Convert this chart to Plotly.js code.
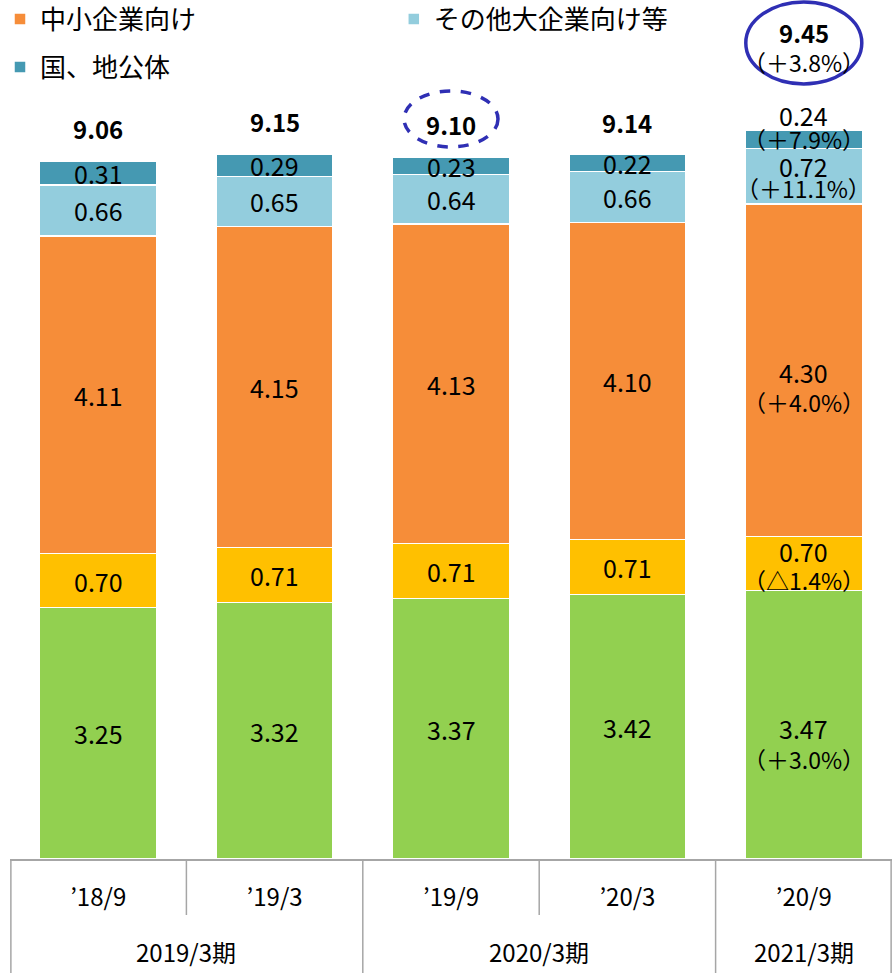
<!DOCTYPE html>
<html>
<head>
<meta charset="utf-8">
<script src="https://cdn.plot.ly/plotly-3.0.1.min.js"></script>
<style>html,body{margin:0;padding:0;background:#fff;}#chart{width:895px;height:973px;}</style>
</head>
<body>
<div id="chart"></div>
<script>
// ---- data ----
const fiscalYears = ['2019/3期', '2019/3期', '2020/3期', '2020/3期', '2021/3期'];
const periods = ['’18/9', '’19/3', '’19/9', '’20/3', '’20/9'];
const seriesNames = ['個人向け', '大企業向け', '中小企業向け', 'その他大企業向け等', '国、地公体'];
const greenVals = [3.25, 3.32, 3.37, 3.42, 3.47];
const yellowVals = [0.70, 0.71, 0.71, 0.71, 0.70];
const orangeVals = [4.11, 4.15, 4.13, 4.10, 4.30];
const lightBlueVals = [0.66, 0.65, 0.64, 0.66, 0.72];
const tealVals = [0.31, 0.29, 0.23, 0.22, 0.24];
const totalLabels = ['9.06', '9.15', '9.10', '9.14', '9.45'];
const lastChangeLabels = ['（＋3.0%）', '（△1.4%）', '（＋4.0%）', '（＋11.1%）', '（＋7.9%）'];
const totalChangeLabel = '（＋3.8%）';

// ---- styles ----
const colors = ['#92D050', '#FFC000', '#F68D39', '#93CDDD', '#4599B2'];
const FONT = '"Noto Sans CJK JP", "Noto Sans", sans-serif';
const series = [greenVals, yellowVals, orangeVals, lightBlueVals, tealVals];
const legendOf = [null, null, 'legend', 'legend3', 'legend2'];
// pixel offsets of value line / change line for the last (annotated) bar
const lastValShift = [-3, 13, -2, 10, 24];
const lastPctShift = [-34, -16, -32, -12, 0];
const W = 895, H = 973, ML = 10, MR = 3, MT = 0, MB = 114;
const plotH = H - MT - MB;
const LINE = '#A6A6A6';

const traces = series.map((vals, s) => {
  const t = {
    type: 'bar',
    name: seriesNames[s],
    x: periods,
    y: vals,
    marker: {color: colors[s], line: {color: '#ffffff', width: 1.5}},
    hoverinfo: 'skip',
    showlegend: legendOf[s] !== null
  };
  if (legendOf[s]) t.legend = legendOf[s];
  return t;
});

const annotations = [];
const stackTop = periods.map(() => 0);
const txt = (x, y, text, shift, size) => ({
  x: x, y: y, xref: 'x', yref: 'y', text: text, showarrow: false,
  yanchor: 'middle', yshift: shift,
  font: {family: FONT, size: size, color: '#000'}
});
series.forEach((vals, s) => {
  vals.forEach((v, i) => {
    const mid = stackTop[i] + v / 2;
    if (i === vals.length - 1) {
      annotations.push(txt(i, mid, v.toFixed(2), lastValShift[s], 25));
      annotations.push(txt(i, mid, lastChangeLabels[s], lastPctShift[s], 23));
    } else {
      annotations.push(txt(i, mid, v.toFixed(2), 0, 25));
    }
    stackTop[i] += v;
  });
});
totalLabels.forEach((t, i) => {
  if (i === totalLabels.length - 1) {
    annotations.push(txt(i, stackTop[i], '<b>' + t + '</b>', 97, 24));
    annotations.push(txt(i, stackTop[i], totalChangeLabel, 68, 23));
  } else {
    annotations.push(txt(i, stackTop[i], '<b>' + t + '</b>', 32, 24));
  }
});

// fiscal-year group labels (second category level)
const groups = [];
fiscalYears.forEach((f, i) => {
  const g = groups.find(gr => gr.name === f);
  if (g) g.idx.push(i); else groups.push({name: f, idx: [i]});
});
groups.forEach(g => {
  const cx = g.idx.reduce((a, b) => a + b, 0) / g.idx.length;
  annotations.push({
    x: cx, xref: 'x', y: -(952 - (H - MB)) / plotH, yref: 'paper',
    text: g.name, showarrow: false, yanchor: 'middle',
    font: {family: FONT, size: 24, color: '#000'}
  });
});

const shapes = [
  {type: 'circle', xref: 'x', yref: 'y', xsizemode: 'pixel', ysizemode: 'pixel',
   xanchor: 2, yanchor: stackTop[2], x0: -47, x1: 47, y0: 10, y1: 66,
   line: {color: '#2F2FB4', width: 3.5, dash: 'dash'}},
  {type: 'circle', xref: 'x', yref: 'y', xsizemode: 'pixel', ysizemode: 'pixel',
   xanchor: 4, yanchor: stackTop[4], x0: -58, x1: 58, y0: 46, y1: 128,
   line: {color: '#2F2FB4', width: 3.5}}
];
// category box lines: long at fiscal-year boundaries, short between periods
for (let b = 0; b <= periods.length; b++) {
  const isEdge = b === 0 || b === periods.length;
  const long = isEdge || fiscalYears[b - 1] !== fiscalYears[b];
  const len = long ? MB : 56;
  const sh = {type: 'line', yref: 'paper', y0: 0, y1: -len / plotH,
    line: {color: LINE, width: 1.5}, layer: 'above'};
  if (isEdge) { sh.xref = 'paper'; sh.x0 = sh.x1 = b === 0 ? 0.001 : 0.999; }
  else { sh.xref = 'x'; sh.x0 = sh.x1 = b - 0.5; }
  shapes.push(sh);
}

const legendBase = {
  orientation: 'h', xref: 'container', yref: 'container',
  xanchor: 'left', yanchor: 'middle', traceorder: 'normal',
  font: {family: FONT, size: 26, color: '#000'}, bgcolor: 'rgba(0,0,0,0)'
};

const layout = {
  width: W, height: H,
  margin: {l: ML, r: MR, t: MT, b: MB, autoexpand: false},
  paper_bgcolor: '#fff', plot_bgcolor: '#fff',
  barmode: 'stack', bargap: 0.337,
  font: {family: FONT, size: 24, color: '#000'},
  xaxis: {
    type: 'category',
    showline: true, linecolor: LINE, linewidth: 1.5,
    ticks: '', ticklabelstandoff: 17,
    tickfont: {family: FONT, size: 24, color: '#000'},
    showgrid: false, zeroline: false, fixedrange: true
  },
  yaxis: {range: [0, 11.11], visible: false, fixedrange: true},
  legend: Object.assign({}, legendBase, {x: 0, y: 1 - 19 / H}),
  legend3: Object.assign({}, legendBase, {x: 0.44, y: 1 - 19 / H}),
  legend2: Object.assign({}, legendBase, {x: 0, y: 1 - 67 / H}),
  annotations: annotations,
  shapes: shapes
};

Plotly.newPlot('chart', traces, layout, {displayModeBar: false, staticPlot: true});
</script>
</body>
</html>
